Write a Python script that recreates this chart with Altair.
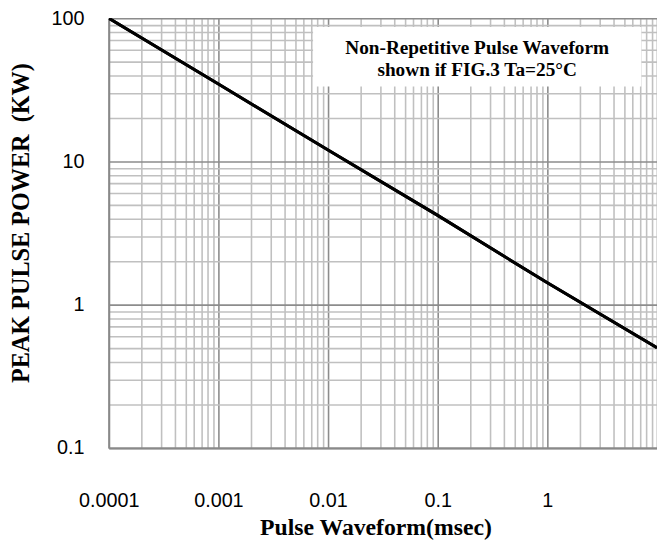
import altair as alt
import pandas as pd

# ---- data ----
pulse_ms = [0.0001, 0.001, 0.01, 0.1, 1, 10]
peak_kw = [100, 34.7, 12.0, 4.2, 1.42, 0.5]

x_major = [0.0001, 0.001, 0.01, 0.1, 1, 10]
x_labels = ["0.0001", "0.001", "0.01", "0.1", "1", ""]
y_major = [0.1, 1, 10, 100]
y_labels = ["0.1", "1", "10", "100"]

note_lines = ["Non-Repetitive Pulse Waveform", "shown if FIG.3 Ta=25\u00b0C"]
note_x = [0.229, 0.229]
note_y = [56.5, 39.8]
box_x = [0.0073, 7.2]
box_y = [33.4, 86.7]

x_title = "Pulse Waveform(msec)"
y_title = "PEAK PULSE POWER \u00a0(KW)"

# ---- tick / grid values ----
def log_ticks(majors):
    vals = []
    for d in majors[:-1]:
        vals.append(d)
        for m in range(2, 10):
            vals.append(d * m)
    vals.append(majors[-1])
    return vals

x_vals = log_ticks(x_major)
y_vals = log_ticks(y_major)

def label_expr(majors, labels):
    parts = " : ".join(f"datum.value == {v} ? '{l}'" for v, l in zip(majors, labels))
    return parts + " : ''"

def grid_color(majors):
    test = "indexof([" + ",".join(str(v) for v in majors) + "], datum.value) >= 0"
    return {"condition": {"test": test, "value": "#8c8c8c"}, "value": "#c0c0c0"}

line_df = pd.DataFrame({"x": pulse_ms, "y": peak_kw})
note_df = pd.DataFrame({"x": note_x, "y": note_y, "t": note_lines})
box_df = pd.DataFrame({"x": [box_x[0]], "x2": [box_x[1]], "y": [box_y[0]], "y2": [box_y[1]]})

W, H = 555, 435

x_scale = alt.Scale(type="log", domain=[0.0001, 10], nice=False)
y_scale = alt.Scale(type="log", domain=[0.1, 100], nice=False)

x_axis = alt.Axis(
    values=x_vals, labelExpr=label_expr(x_major, x_labels), labelOverlap=False, labelFlush=False,
    grid=True, gridColor=grid_color(x_major), gridWidth=1.6,
    ticks=False, tickSize=0, domainColor="#898989", domainWidth=2,
    labelFont="Liberation Sans", labelFontSize=20, labelColor="#000000",
    labelPadding=53, labelBaseline="middle",
    title=x_title, titleFont="Liberation Serif", titleFontSize=24, titleFontWeight="bold",
    titleColor="#000000", titleX=270, titleY=87.5, titleBaseline="alphabetic", titleAlign="center",
)
y_axis = alt.Axis(
    values=y_vals, labelExpr=label_expr(y_major, y_labels), labelOverlap=False, labelFlush=False,
    grid=True, gridColor=grid_color(y_major), gridWidth=1.6,
    ticks=False, tickSize=0, domainColor="#898989", domainWidth=2,
    labelFont="Liberation Sans", labelFontSize=20, labelColor="#000000",
    labelPadding=25,
    title=y_title, titleFont="Liberation Serif", titleFontSize=24.5, titleFontWeight="bold",
    titleColor="#000000", titleX=-88, titleY=207, titleAngle=270,
    titleBaseline="middle", titleAlign="center",
)

base_line = alt.Chart(line_df).mark_line(color="#000000", strokeWidth=3, clip=True).encode(
    x=alt.X("x:Q", scale=x_scale, axis=x_axis),
    y=alt.Y("y:Q", scale=y_scale, axis=y_axis),
)

box = alt.Chart(box_df).mark_rect(color="#ffffff", opacity=1).encode(
    x=alt.X("x:Q", scale=x_scale), x2="x2:Q",
    y=alt.Y("y:Q", scale=y_scale), y2="y2:Q",
)

note = alt.Chart(note_df).mark_text(
    font="Liberation Serif", fontSize=19.5, fontWeight="bold", color="#000000",
    align="center", baseline="alphabetic",
).encode(
    x=alt.X("x:Q", scale=x_scale),
    y=alt.Y("y:Q", scale=y_scale),
    text="t:N",
)

chart = alt.layer(base_line, box, note, base_line).properties(
    width=W, height=H,
    autosize=alt.AutoSizeParams(type="none"),
    padding={"left": 102, "top": 7, "right": 0, "bottom": 96},
).configure_view(stroke=None).configure(background="#ffffff")

chart.save("out.html", embed_options={"renderer": "svg", "actions": False})
